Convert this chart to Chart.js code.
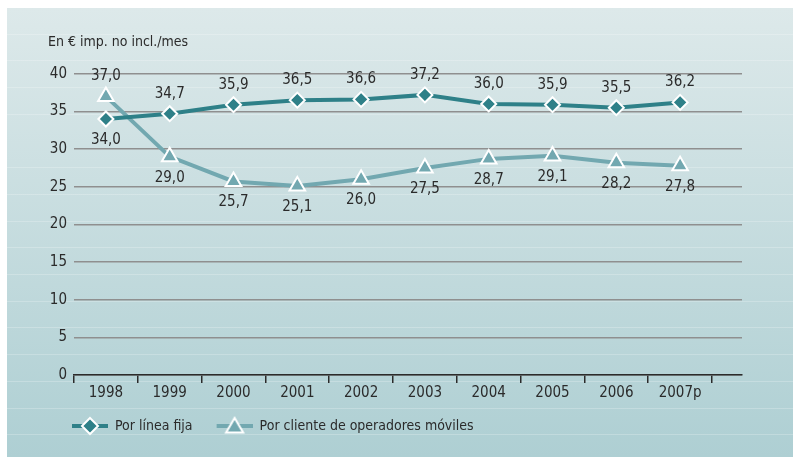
<!DOCTYPE html>
<html>
<head>
<meta charset="utf-8">
<script src="https://cdn.jsdelivr.net/npm/chart.js@4/dist/chart.umd.min.js"></script>
<style>
  html, body { margin: 0; padding: 0; background: #fff; }
  #panel {
    position: absolute; left: 7px; top: 8px; width: 786px; height: 449px;
    background:
      repeating-linear-gradient(to bottom, rgba(255,255,255,0) 0px, rgba(255,255,255,0) 25.7px,
        rgba(255,255,255,0.22) 25.7px, rgba(255,255,255,0.22) 26.7px),
      linear-gradient(to bottom, #dde9ea, #aecfd3);
  }
</style>
</head>
<body>
<div id="panel"><canvas id="chart" width="786" height="449"></canvas></div>
<script>
// datos
const years = ["1998", "1999", "2000", "2001", "2002", "2003", "2004", "2005", "2006", "2007p"];
const lineaFija = [34.0, 34.7, 35.9, 36.5, 36.6, 37.2, 36.0, 35.9, 35.5, 36.2];
const movil = [37.0, 29.0, 25.7, 25.1, 26.0, 27.5, 28.7, 29.1, 28.2, 27.8];
const seriesNames = ["Por línea fija", "Por cliente de operadores móviles"];
const yMin = 0, yMax = 40, yStep = 5;

const FONT = '"Liberation Sans Narrow", "DejaVu Sans Condensed", "Arial Narrow", sans-serif';
const TEXT = "#2b2b2b";
const DARK = "#2e8088";
const LIGHT = "#72a8b0";

const fmt = v => v.toFixed(1).replace(".", ",");

// icono de leyenda: linea + marcador (con margen transparente a la izquierda)
function legendIcon(color, style) {
  const m = 6;
  const c = document.createElement("canvas");
  c.width = 36 + m; c.height = 20;
  const g = c.getContext("2d");
  g.strokeStyle = color; g.lineWidth = 4;
  g.beginPath(); g.moveTo(m, 10); g.lineTo(m + 36, 10); g.stroke();
  g.fillStyle = color; g.strokeStyle = "#fff"; g.lineWidth = 2;
  const cx = m + 18;
  g.beginPath();
  if (style === "rectRot") {
    g.moveTo(cx, 2); g.lineTo(cx + 8, 10); g.lineTo(cx, 18); g.lineTo(cx - 8, 10);
  } else {
    g.moveTo(cx, 2); g.lineTo(cx + 8.5, 16.5); g.lineTo(cx - 8.5, 16.5);
  }
  g.closePath(); g.fill(); g.stroke();
  return c;
}

// etiquetas de valores
const valueLabels = {
  id: "valueLabels",
  afterDatasetsDraw(chart) {
    const ctx = chart.ctx;
    const sets = chart.data.datasets;
    ctx.save();
    ctx.font = "15px " + FONT;
    ctx.fillStyle = TEXT;
    ctx.textAlign = "center";
    ctx.textBaseline = "middle";
    sets.forEach((ds, d) => {
      const other = sets[1 - d].data;
      chart.getDatasetMeta(d).data.forEach((pt, i) => {
        const v = ds.data[i].y;
        const above = v >= other[i].y;
        ctx.fillText(fmt(v), pt.x, above ? pt.y - 20 : pt.y + 21);
      });
    });
    ctx.restore();
  }
};

const ctx = document.getElementById("chart").getContext("2d");
const chart = new Chart(ctx, {
  type: "line",
  data: {
    datasets: [
      {
        label: seriesNames[0],
        data: lineaFija.map((v, i) => ({ x: i, y: v })),
        borderColor: DARK, backgroundColor: DARK,
        borderWidth: 4, tension: 0,
        pointStyle: "rectRot", pointRadius: 7.5,
        pointBackgroundColor: DARK, pointBorderColor: "#fff", pointBorderWidth: 2,
      },
      {
        label: seriesNames[1],
        data: movil.map((v, i) => ({ x: i, y: v })),
        borderColor: LIGHT, backgroundColor: LIGHT,
        borderWidth: 4, tension: 0,
        pointStyle: "triangle", pointRadius: 9,
        pointBackgroundColor: LIGHT, pointBorderColor: "#fff", pointBorderWidth: 2,
      },
    ],
  },
  options: {
    responsive: false,
    animation: false,
    devicePixelRatio: 1,
    layout: { padding: { left: 41, right: 51, top: 0, bottom: 14 } },
    scales: {
      x: {
        type: "linear",
        min: -0.5,
        max: 9.97,
        afterBuildTicks: s => { s.ticks = years.map((_, i) => ({ value: i })); },
        afterFit: s => { s.height = 26; },
        ticks: {
          callback: v => years[v],
          autoSkip: false, maxRotation: 0, padding: 1,
          color: TEXT, font: { family: FONT, size: 15 },
        },
        grid: { offset: true, drawOnChartArea: false, tickLength: 8, color: TEXT, lineWidth: 1.5 },
        border: { display: true, color: TEXT, width: 1.5 },
      },
      y: {
        min: yMin, max: yMax,
        afterFit: s => { s.width = 26; },
        ticks: { stepSize: yStep, padding: 7, color: TEXT, font: { family: FONT, size: 15 } },
        grid: { color: "#8f8f8f", lineWidth: 1.5, drawTicks: false },
        border: { display: false },
      },
    },
    plugins: {
      title: {
        display: true,
        text: "En € imp. no incl./mes",
        align: "start",
        color: TEXT,
        font: { family: FONT, size: 14, weight: "normal" },
        padding: { top: 26, bottom: 23 },
      },
      legend: {
        position: "bottom",
        align: "start",
        labels: {
          usePointStyle: true,
          pointStyleWidth: 42,
          padding: 18,
          color: TEXT,
          font: { family: FONT, size: 14 },
          generateLabels: ch => ch.data.datasets.map((ds, i) => ({
            text: ds.label,
            pointStyle: legendIcon(ds.borderColor, ds.pointStyle),
            datasetIndex: i,
            fontColor: TEXT,
            fillStyle: "rgba(0,0,0,0)",
            strokeStyle: "rgba(0,0,0,0)",
            lineWidth: 0,
            hidden: false,
          })),
        },
      },
      tooltip: { enabled: false },
    },
  },
  plugins: [valueLabels],
});
</script>
</body>
</html>
